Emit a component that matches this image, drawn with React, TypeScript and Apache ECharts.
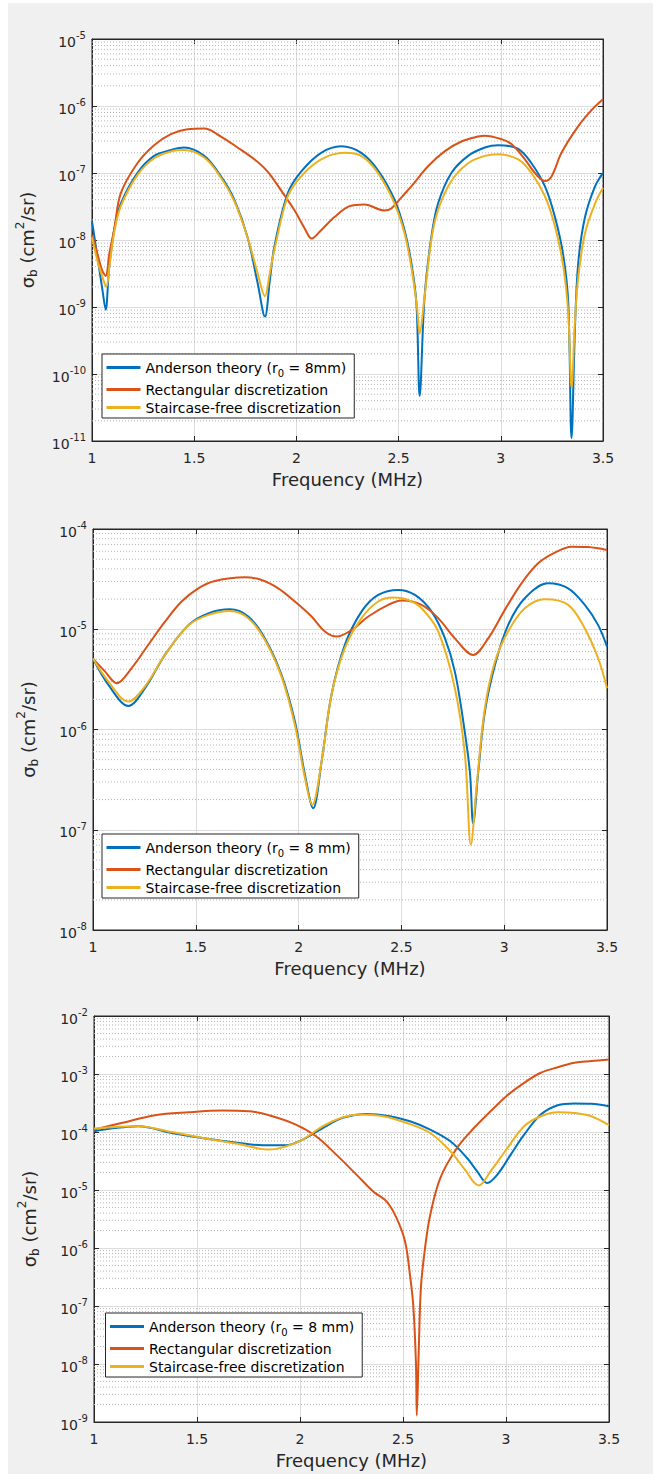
import React, { useEffect, useRef } from 'react';
import * as echarts from 'echarts';

const FONT = "'DejaVu Sans', 'Liberation Sans', sans-serif";
const AX = '#262626';
const BLUE = '#0072BD';
const RED = '#D95319';
const YELLOW = '#EDB120';

// ---------- Plot 1 (top) ----------
const p1AndersonF = [1.0, 1.026, 1.051, 1.067, 1.083, 1.108, 1.141, 1.222, 1.304, 1.386, 1.45, 1.549, 1.631, 1.696, 1.761, 1.81, 1.846, 1.87, 1.892, 1.958, 2.023, 2.121, 2.219, 2.317, 2.399, 2.48, 2.529, 2.562, 2.587, 2.603, 2.627, 2.66, 2.693, 2.758, 2.84, 2.922, 2.987, 3.085, 3.15, 3.216, 3.265, 3.306, 3.33, 3.346, 3.363, 3.379, 3.412, 3.461, 3.5];
const p1AndersonV = [1.9e-8, 5.8e-9, 1.8e-9, 9.1e-10, 3.6e-9, 1.4e-8, 3.5e-8, 1.0e-7, 1.8e-7, 2.2e-7, 2.4e-7, 1.8e-7, 8.9e-8, 4.0e-8, 1.1e-8, 2.3e-9, 7.2e-10, 2.5e-9, 7.9e-9, 5.0e-8, 1.05e-7, 2.0e-7, 2.5e-7, 2.0e-7, 1.1e-7, 4.0e-8, 1.4e-8, 4.6e-9, 1.15e-9, 4.7e-11, 1.4e-9, 1.1e-8, 3.5e-8, 1.0e-7, 1.8e-7, 2.4e-7, 2.6e-7, 2.3e-7, 1.4e-7, 6.3e-8, 2.2e-8, 5.8e-9, 1.15e-9, 1.1e-11, 5.0e-10, 4.6e-9, 2.2e-8, 6.3e-8, 1.0e-7];

const p1RectF = [1.0, 1.026, 1.05, 1.067, 1.085, 1.108, 1.141, 1.222, 1.304, 1.386, 1.467, 1.549, 1.631, 1.712, 1.794, 1.859, 1.925, 1.99, 2.04, 2.075, 2.121, 2.186, 2.26, 2.333, 2.431, 2.464, 2.513, 2.562, 2.644, 2.725, 2.807, 2.889, 2.922, 3.003, 3.052, 3.118, 3.167, 3.216, 3.248, 3.297, 3.379, 3.444, 3.5];
const p1RectV = [1.2e-8, 6.3e-9, 3.5e-9, 2.9e-9, 6.3e-9, 1.4e-8, 5.0e-8, 1.4e-7, 2.6e-7, 3.8e-7, 4.5e-7, 4.6e-7, 3.5e-7, 2.4e-7, 1.6e-7, 1.05e-7, 5.5e-8, 2.8e-8, 1.5e-8, 1.05e-8, 1.4e-8, 2.2e-8, 3.2e-8, 3.4e-8, 2.75e-8, 2.95e-8, 4.3e-8, 6.3e-8, 1.26e-7, 2.1e-7, 2.95e-7, 3.5e-7, 3.6e-7, 3.2e-7, 2.7e-7, 1.6e-7, 1.0e-7, 7.6e-8, 8.9e-8, 2.0e-7, 5.0e-7, 8.7e-7, 1.26e-6];

const p1StairF = [1.0, 1.026, 1.051, 1.07, 1.085, 1.108, 1.141, 1.222, 1.304, 1.386, 1.45, 1.549, 1.631, 1.696, 1.761, 1.81, 1.846, 1.87, 1.892, 1.958, 2.023, 2.121, 2.235, 2.317, 2.399, 2.48, 2.529, 2.562, 2.59, 2.603, 2.625, 2.66, 2.693, 2.758, 2.84, 2.922, 2.987, 3.085, 3.15, 3.216, 3.265, 3.306, 3.33, 3.346, 3.363, 3.379, 3.412, 3.461, 3.5];
const p1StairV = [1.1e-8, 5.0e-9, 2.8e-9, 2.0e-9, 4.0e-9, 1.26e-8, 3.2e-8, 9.3e-8, 1.66e-7, 2.1e-7, 2.2e-7, 1.7e-7, 8.5e-8, 3.8e-8, 1.1e-8, 3.2e-9, 1.45e-9, 3.2e-9, 7.1e-9, 4.5e-8, 8.9e-8, 1.6e-7, 2.0e-7, 1.8e-7, 1.0e-7, 3.5e-8, 1.26e-8, 4.0e-9, 1.0e-9, 4.0e-10, 1.26e-9, 1.0e-8, 2.8e-8, 7.6e-8, 1.4e-7, 1.8e-7, 1.9e-7, 1.6e-7, 1.0e-7, 4.5e-8, 1.6e-8, 4.0e-9, 8.0e-10, 6.3e-11, 6.3e-10, 2.8e-9, 1.26e-8, 3.5e-8, 6.0e-8];

// ---------- Plot 2 (middle) ----------
const p2AndersonF = [1.0, 1.075, 1.172, 1.253, 1.35, 1.464, 1.561, 1.666, 1.755, 1.836, 1.917, 1.982, 2.031, 2.071, 2.112, 2.16, 2.225, 2.306, 2.387, 2.485, 2.566, 2.647, 2.712, 2.76, 2.801, 2.833, 2.849, 2.874, 2.906, 2.955, 3.019, 3.1, 3.214, 3.311, 3.392, 3.457, 3.5];
const p2AndersonV = [5.1e-6, 2.79e-6, 1.72e-6, 2.58e-6, 5.55e-6, 1.1e-5, 1.44e-5, 1.58e-5, 1.34e-5, 8.1e-6, 3.5e-6, 1.2e-6, 3.53e-7, 1.64e-7, 4.8e-7, 2.22e-6, 6.98e-6, 1.5e-5, 2.2e-5, 2.47e-5, 2.2e-5, 1.5e-5, 8.1e-6, 3.78e-6, 1.2e-6, 3.81e-7, 1.16e-7, 3.81e-7, 1.51e-6, 4.41e-6, 1.1e-5, 2.04e-5, 2.87e-5, 2.56e-5, 1.75e-5, 1.1e-5, 6.71e-6];

const p2RectF = [1.0, 1.058, 1.115, 1.188, 1.269, 1.35, 1.431, 1.512, 1.593, 1.739, 1.82, 1.901, 1.982, 2.063, 2.128, 2.185, 2.258, 2.339, 2.436, 2.501, 2.598, 2.679, 2.76, 2.849, 2.922, 3.003, 3.084, 3.165, 3.246, 3.327, 3.408, 3.5];
const p2RectV = [5.1e-6, 3.8e-6, 2.9e-6, 4.1e-6, 7.0e-6, 1.19e-5, 1.89e-5, 2.56e-5, 3.03e-5, 3.3e-5, 3.1e-5, 2.56e-5, 1.89e-5, 1.34e-5, 9.5e-6, 8.45e-6, 9.85e-6, 1.34e-5, 1.75e-5, 1.93e-5, 1.75e-5, 1.29e-5, 8.1e-6, 5.55e-6, 8.1e-6, 1.56e-5, 2.87e-5, 4.55e-5, 5.81e-5, 6.67e-5, 6.6e-5, 6.18e-5];

const p2StairF = [1.0, 1.075, 1.172, 1.253, 1.35, 1.464, 1.561, 1.666, 1.755, 1.836, 1.917, 1.982, 2.031, 2.066, 2.112, 2.16, 2.225, 2.306, 2.387, 2.46, 2.533, 2.598, 2.679, 2.76, 2.809, 2.838, 2.865, 2.906, 2.955, 3.019, 3.1, 3.198, 3.311, 3.392, 3.457, 3.5];
const p2StairV = [5.1e-6, 3.0e-6, 1.9e-6, 2.69e-6, 5.55e-6, 1.09e-5, 1.39e-5, 1.52e-5, 1.29e-5, 7.83e-6, 3.37e-6, 1.11e-6, 3.27e-7, 1.77e-7, 4.8e-7, 2.22e-6, 6.47e-6, 1.29e-5, 1.89e-5, 2.07e-5, 1.96e-5, 1.62e-5, 9.5e-6, 2.58e-6, 5.6e-7, 7.08e-8, 2.6e-7, 1.63e-6, 4.76e-6, 9.5e-6, 1.62e-5, 1.99e-5, 1.75e-5, 1.02e-5, 5.14e-6, 2.58e-6];

// ---------- Plot 3 (bottom) ----------
const p3AndersonF = [1.0, 1.101, 1.215, 1.378, 1.541, 1.704, 1.818, 1.932, 2.013, 2.111, 2.208, 2.322, 2.436, 2.534, 2.632, 2.73, 2.811, 2.86, 2.909, 2.958, 3.023, 3.088, 3.169, 3.251, 3.332, 3.414, 3.5];
const p3AndersonV = [1.03e-4, 1.17e-4, 1.26e-4, 9.6e-5, 7.7e-5, 6.47e-5, 5.9e-5, 5.9e-5, 7.4e-5, 1.17e-4, 1.75e-4, 2.05e-4, 1.87e-4, 1.53e-4, 1.1e-4, 6.92e-5, 3.56e-5, 2.1e-5, 1.32e-5, 1.84e-5, 4.07e-5, 9.0e-5, 2.0e-4, 2.9e-4, 3.1e-4, 3.07e-4, 2.79e-4];

const p3RectF = [1.0, 1.134, 1.296, 1.459, 1.622, 1.752, 1.866, 1.98, 2.078, 2.176, 2.274, 2.355, 2.42, 2.469, 2.51, 2.534, 2.55, 2.563, 2.567, 2.576, 2.587, 2.607, 2.632, 2.681, 2.762, 2.844, 2.925, 3.007, 3.088, 3.169, 3.251, 3.332, 3.414, 3.5];
const p3RectV = [1.1e-4, 1.43e-4, 1.95e-4, 2.19e-4, 2.34e-4, 2.28e-4, 1.87e-4, 1.34e-4, 8.43e-5, 4.07e-5, 1.84e-5, 9.46e-6, 6.35e-6, 3.27e-6, 1.29e-6, 3.4e-7, 1.0e-7, 1.0e-8, 1.3e-9, 1.5e-8, 2.1e-7, 1.0e-6, 3.7e-6, 1.61e-5, 5.3e-5, 1.17e-4, 2.28e-4, 4.31e-4, 7.05e-4, 1.05e-3, 1.31e-3, 1.56e-3, 1.67e-3, 1.78e-3];

const p3StairF = [1.0, 1.215, 1.378, 1.541, 1.704, 1.85, 1.932, 2.013, 2.111, 2.208, 2.29, 2.404, 2.518, 2.632, 2.73, 2.795, 2.868, 2.925, 3.007, 3.088, 3.169, 3.251, 3.332, 3.414, 3.5];
const p3StairV = [1.15e-4, 1.26e-4, 1.0e-4, 7.7e-5, 6.22e-5, 4.97e-5, 5.66e-5, 7.4e-5, 1.26e-4, 1.8e-4, 2.0e-4, 1.87e-4, 1.43e-4, 9.6e-5, 4.65e-5, 2.39e-5, 1.2e-5, 2.1e-5, 5.3e-5, 1.26e-4, 1.87e-4, 2.19e-4, 2.13e-4, 1.87e-4, 1.31e-4];

// ---------- Axes / labels ----------
const X_MIN = 1;
const X_MAX = 3.5;
const X_STEP = 0.5;
const Y_MIN = [1e-11, 1e-8, 1e-9];
const Y_MAX = [1e-5, 1e-4, 1e-2];
const MINOR_MULTIPLIERS = [2, 3, 4, 5, 6, 7, 8, 9];
const X_NAME = 'Frequency (MHz)';
const Y_NAME = '{n|σ}{b|b}{n| (cm}{p|2}{n|/sr)}';
const NAME_ANDERSON = ['Anderson theory (r0 = 8mm)', 'Anderson theory (r0 = 8 mm)', 'Anderson theory (r0 = 8 mm)'];
const NAME_RECT = 'Rectangular discretization';
const NAME_STAIR = 'Staircase-free discretization';

const GRIDS = [
  { left: 92, top: 39, width: 511, height: 402 },
  { left: 93, top: 529, width: 514, height: 401 },
  { left: 94, top: 1016, width: 515, height: 406 },
];
const LEGEND_POS = [
  { left: 102, top: 354 },
  { left: 102, top: 834 },
  { left: 105.5, top: 1313 },
];

const pairs = (f: number[], v: number[]) => f.map((x, i) => [x, v[i]]);

function minorValues(min: number, max: number) {
  const out: number[] = [];
  const lo = Math.round(Math.log10(min));
  const hi = Math.round(Math.log10(max));
  for (let d = lo; d < hi; d++) {
    for (const k of MINOR_MULTIPLIERS) out.push(k * Math.pow(10, d));
  }
  return out;
}

export default function App() {
  const ref = useRef<HTMLDivElement>(null);

  useEffect(() => {
    if (!ref.current) return;
    const chart = echarts.init(ref.current, null, { renderer: 'svg' });

    const seriesData = [
      [pairs(p1AndersonF, p1AndersonV), pairs(p1RectF, p1RectV), pairs(p1StairF, p1StairV)],
      [pairs(p2AndersonF, p2AndersonV), pairs(p2RectF, p2RectV), pairs(p2StairF, p2StairV)],
      [pairs(p3AndersonF, p3AndersonV), pairs(p3RectF, p3RectV), pairs(p3StairF, p3StairV)],
    ];

    const xAxes: any[] = [];
    const yAxes: any[] = [];
    const series: any[] = [];
    const legends: any[] = [];

    GRIDS.forEach((_, i) => {
      xAxes.push({
        type: 'value', gridIndex: i, min: X_MIN, max: X_MAX, interval: X_STEP, position: 'bottom',
        axisLine: { show: true, onZero: false, lineStyle: { color: AX, width: 1 } },
        axisTick: { show: true, inside: true, length: 5, lineStyle: { color: AX } },
        axisLabel: { show: true, margin: 10, fontSize: 14, color: AX, fontFamily: FONT },
        splitLine: { show: true, lineStyle: { color: '#dcdcdc', width: 1 } },
        name: X_NAME, nameLocation: 'middle', nameGap: 29,
        nameTextStyle: { fontSize: 18, color: AX, fontFamily: FONT },
      });
      xAxes.push({
        type: 'value', gridIndex: i, min: X_MIN, max: X_MAX, interval: X_STEP, position: 'top',
        axisLine: { show: true, onZero: false, lineStyle: { color: AX, width: 1 } },
        axisTick: { show: true, inside: true, length: 5, lineStyle: { color: AX } },
        axisLabel: { show: false }, splitLine: { show: false },
      });
      yAxes.push({
        type: 'log', logBase: 10, gridIndex: i, min: Y_MIN[i], max: Y_MAX[i], position: 'left',
        axisLine: { show: true, lineStyle: { color: AX, width: 1 } },
        axisTick: { show: true, inside: true, length: 5, lineStyle: { color: AX } },
        axisLabel: {
          show: true, margin: 6,
          formatter: (v: number) => `{m|10}{e|${Math.round(Math.log10(v))}}`,
          rich: {
            m: { fontSize: 14, lineHeight: 14, padding: [5, 0, 0, 0], color: AX, fontFamily: FONT },
            e: { fontSize: 10, lineHeight: 10, padding: [0, 0, 7, 0], color: AX, fontFamily: FONT },
          },
        },
        splitLine: { show: true, lineStyle: { color: '#dcdcdc', width: 1 } },
        name: Y_NAME, nameLocation: 'middle', nameGap: 55, nameRotate: 90,
        nameTextStyle: {
          fontSize: 18, color: AX, fontFamily: FONT,
          rich: {
            n: { fontSize: 18, lineHeight: 20, color: AX, fontFamily: FONT },
            b: { fontSize: 12, lineHeight: 12, padding: [12, 0, 0, 0], color: AX, fontFamily: FONT },
            p: { fontSize: 12, lineHeight: 12, padding: [0, 0, 14, 0], color: AX, fontFamily: FONT },
          },
        },
      });
      yAxes.push({
        type: 'log', logBase: 10, gridIndex: i, min: Y_MIN[i], max: Y_MAX[i], position: 'right',
        axisLine: { show: true, lineStyle: { color: AX, width: 1 } },
        axisTick: { show: true, inside: true, length: 5, lineStyle: { color: AX } },
        axisLabel: { show: false }, splitLine: { show: false },
      });

      const xi = i * 2;
      const yi = i * 2;

      // dotted minor grid lines at 2..9 x 10^n, each a flat helper line through the axes
      minorValues(Y_MIN[i], Y_MAX[i]).forEach((v) => {
        series.push({
          type: 'line', xAxisIndex: xi, yAxisIndex: yi, z: 1, silent: true,
          data: [[X_MIN, v], [X_MAX, v]],
          showSymbol: false, symbol: 'none',
          lineStyle: { color: '#b4b4b4', type: [1, 2], width: 1 },
          emphasis: { disabled: true },
        });
      });

      const names = [NAME_ANDERSON[i], NAME_RECT, NAME_STAIR];
      const colors = [BLUE, RED, YELLOW];
      seriesData[i].forEach((d, k) => {
        series.push({
          type: 'line', name: names[k], xAxisIndex: xi, yAxisIndex: yi, data: d,
          showSymbol: false, smooth: 0.35, z: 3 + k,
          lineStyle: { color: colors[k], width: 2 }, itemStyle: { color: colors[k] },
          emphasis: { disabled: true },
        });
      });

      legends.push({
        orient: 'vertical', left: LEGEND_POS[i].left, top: LEGEND_POS[i].top,
        itemWidth: 34, itemHeight: 3, itemGap: 4, icon: 'rect', selectedMode: false,
        padding: [2.5, 8, 3.5, 4.5], backgroundColor: '#ffffff', borderColor: AX, borderWidth: 1,
        data: names,
        formatter: (name: string) => name.replace('(r0', '(r{s|0}'),
        textStyle: {
          fontFamily: FONT, fontSize: 14, lineHeight: 14, color: '#000',
          rich: { s: { fontSize: 10, lineHeight: 10, padding: [12, 0, 0, 0], fontFamily: FONT, color: '#000' } },
        },
      });
    });

    chart.setOption({
      animation: false,
      backgroundColor: 'transparent',
      grid: GRIDS.map((g) => ({ ...g, show: true, backgroundColor: '#ffffff', borderColor: AX, borderWidth: 1, containLabel: false })),
      xAxis: xAxes,
      yAxis: yAxes,
      legend: legends,
      series,
    });

    return () => chart.dispose();
  }, []);

  return (
    <div style={{ position: 'absolute', left: 0, top: 0, width: 653, height: 1474, background: '#ffffff', overflow: 'hidden' }}>
      <div style={{ position: 'absolute', left: 8, top: 3, width: 645, height: 1471, background: '#f0f0f0' }} />
      <div ref={ref} style={{ position: 'absolute', left: 0, top: 0, width: 653, height: 1474 }} />
    </div>
  );
}
